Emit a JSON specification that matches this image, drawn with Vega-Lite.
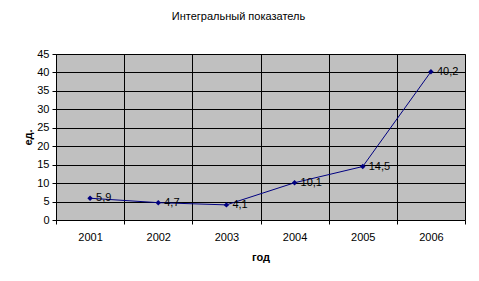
{
  "$schema": "https://vega.github.io/schema/vega-lite/v6.json",
  "autosize": "none",
  "width": 409,
  "height": 166,
  "padding": {"left": 56, "top": 54, "right": 14, "bottom": 61},
  "background": "white",
  "config": {
    "font": "Liberation Sans",
    "locale": {"number": {"decimal": ",", "thousands": " ", "grouping": [3], "currency": ["", ""]}},
    "view": {"fill": "#C0C0C0", "stroke": "#808080", "strokeWidth": 1}
  },
  "title": {
    "text": "Интегральный показатель",
    "fontSize": 11,
    "fontWeight": "normal",
    "font": "Liberation Sans",
    "color": "black",
    "offset": 26,
    "dx": -22
  },
  "data": {
    "values": [
      {"year": "2001", "value": 5.9},
      {"year": "2002", "value": 4.7},
      {"year": "2003", "value": 4.1},
      {"year": "2004", "value": 10.1},
      {"year": "2005", "value": 14.5},
      {"year": "2006", "value": 40.2}
    ]
  },
  "encoding": {
    "x": {
      "field": "year",
      "type": "ordinal",
      "scale": {"type": "band", "paddingInner": 0, "paddingOuter": 0},
      "axis": {
        "title": "год",
        "titleFontSize": 11,
        "titleFontWeight": "bold",
        "titleColor": "black",
        "titlePadding": 9,
        "labelAngle": 0,
        "labelFontSize": 11,
        "labelColor": "black",
        "labelPadding": 7,
        "tickBand": "extent",
        "tickColor": "black",
        "tickSize": 4,
        "domain": false,
        "grid": true,
        "gridColor": "black",
        "gridOpacity": 1,
        "gridWidth": 1
      }
    },
    "y": {
      "field": "value",
      "type": "quantitative",
      "scale": {"domain": [0, 45], "nice": false},
      "axis": {
        "title": "ед.",
        "titleFontSize": 11,
        "titleFontWeight": "bold",
        "titleColor": "black",
        "titlePadding": 3,
        "values": [0, 5, 10, 15, 20, 25, 30, 35, 40, 45],
        "labelFontSize": 11,
        "labelColor": "black",
        "labelPadding": 3,
        "tickColor": "black",
        "tickSize": 4,
        "domainColor": "black",
        "grid": true,
        "gridColor": "black",
        "gridOpacity": 1,
        "gridWidth": 1
      }
    }
  },
  "layer": [
    {"mark": {"type": "line", "color": "#000080", "strokeWidth": 1}},
    {"mark": {"type": "point", "shape": "diamond", "filled": true, "color": "#000080", "size": 30, "opacity": 1}},
    {
      "mark": {"type": "text", "align": "left", "baseline": "middle", "dx": 6, "fontSize": 11, "color": "black"},
      "encoding": {"text": {"field": "value", "type": "quantitative", "format": ".1f"}}
    }
  ]
}
